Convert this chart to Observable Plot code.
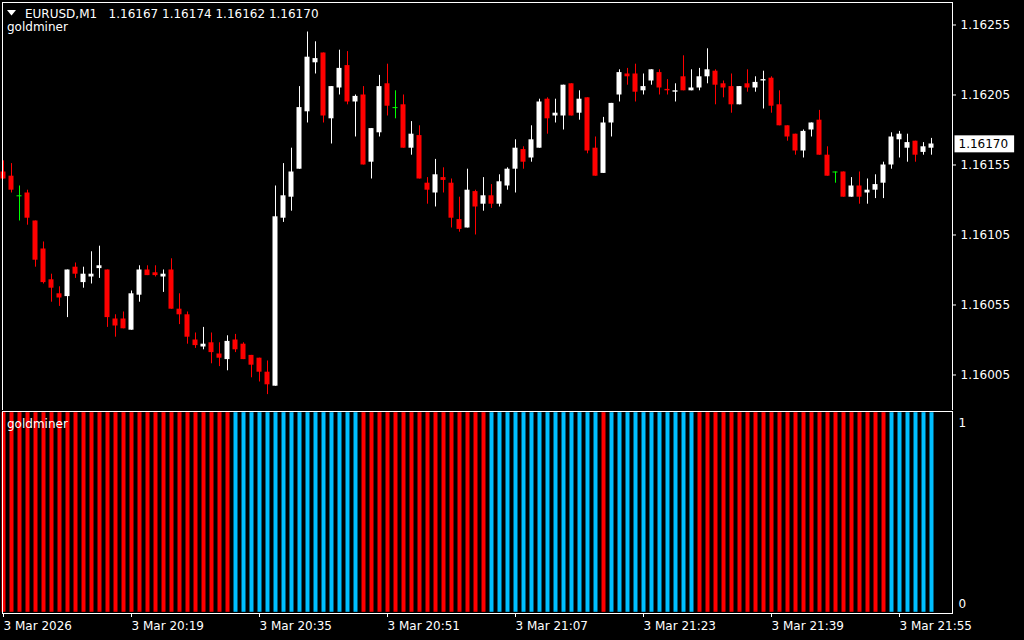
<!DOCTYPE html>
<html><head><meta charset="utf-8">
<script src="https://cdn.jsdelivr.net/npm/d3@7"></script>
<script src="https://cdn.jsdelivr.net/npm/@observablehq/plot@0.6"></script>
<style>
html,body{margin:0;padding:0;background:#000;}
#wrap{position:relative;width:1024px;height:640px;overflow:hidden;background:#000;font-family:"DejaVu Sans",sans-serif;font-size:12px;color:#fff;}
#main,#ind{position:absolute;left:0;}
#main{top:0;}
#ind{top:410px;}
.lbl{position:absolute;white-space:pre;line-height:12px;color:#fff;}
</style></head><body>
<div id="wrap"><div id="main"></div><div id="ind"></div></div>
<script>
const symbol = "EURUSD,M1";
const indicatorName = "goldminer";

const open = [
1.16150,1.16147,1.16133,1.16135,1.16115,1.16095,1.16073,1.16063,1.16061,1.16082,
1.16071,1.16075,1.16081,1.16080,1.16045,1.16045,1.16037,1.16062,1.16080,1.16078,
1.16075,1.16080,1.16052,1.16048,1.16030,1.16025,1.16028,1.16020,1.16016,1.16030,
1.16027,1.16019,1.16017,1.16007,1.15997,1.16117,1.16132,1.16152,1.16193,1.16228,
1.16235,1.16188,1.16210,1.16226,1.16200,1.16205,1.16157,1.16178,1.16213,1.16196,
1.16198,1.16167,1.16176,1.16142,1.16135,1.16146,1.16142,1.16116,1.16110,1.16136,
1.16127,1.16133,1.16127,1.16140,1.16152,1.16166,1.16160,1.16167,1.16202,1.16190,
1.16190,1.16213,1.16192,1.16203,1.16167,1.16149,1.16185,1.16205,1.16220,1.16220,
1.16208,1.16215,1.16221,1.16209,1.16207,1.16218,1.16208,1.16210,1.16218,1.16222,
1.16213,1.16211,1.16198,1.16213,1.16210,1.16215,1.16217,1.16198,1.16183,1.16177,
1.16165,1.16180,1.16187,1.16162,1.16150,1.16150,1.16132,1.16140,1.16135,1.16137,
1.16142,1.16155,1.16173,1.16167,1.16172,1.16164,1.16167];
const high = [
1.16158,1.16156,1.16140,1.16137,1.16115,1.16100,1.16077,1.16068,1.16080,1.16085,
1.16082,1.16093,1.16097,1.16080,1.16048,1.16050,1.16065,1.16083,1.16083,1.16083,
1.16080,1.16088,1.16063,1.16050,1.16035,1.16039,1.16035,1.16028,1.16033,1.16034,
1.16028,1.16019,1.16017,1.16015,1.16140,1.16156,1.16167,1.16211,1.16250,1.16243,
1.16235,1.16211,1.16237,1.16236,1.16205,1.16211,1.16181,1.16219,1.16227,1.16208,
1.16205,1.16186,1.16183,1.16146,1.16159,1.16153,1.16145,1.16132,1.16152,1.16137,
1.16146,1.16141,1.16148,1.16153,1.16173,1.16168,1.16183,1.16202,1.16203,1.16202,
1.16212,1.16213,1.16208,1.16203,1.16175,1.16189,1.16199,1.16223,1.16224,1.16227,
1.16220,1.16223,1.16223,1.16216,1.16213,1.16233,1.16223,1.16224,1.16238,1.16223,
1.16215,1.16220,1.16211,1.16223,1.16218,1.16222,1.16218,1.16208,1.16183,1.16177,
1.16180,1.16185,1.16194,1.16168,1.16150,1.16150,1.16146,1.16150,1.16145,1.16148,
1.16157,1.16178,1.16179,1.16177,1.16172,1.16171,1.16174];
const low = [
1.16145,1.16135,1.16115,1.16112,1.16082,1.16070,1.16057,1.16054,1.16046,1.16074,
1.16067,1.16070,1.16074,1.16039,1.16032,1.16038,1.16037,1.16057,1.16076,1.16075,
1.16064,1.16052,1.16041,1.16027,1.16024,1.16023,1.16013,1.16011,1.16008,1.16021,
1.16016,1.16003,1.16000,1.15991,1.15997,1.16114,1.16122,1.16152,1.16185,1.16220,
1.16185,1.16170,1.16205,1.16198,1.16175,1.16155,1.16145,1.16175,1.16190,1.16188,
1.16167,1.16162,1.16145,1.16127,1.16125,1.16135,1.16110,1.16107,1.16110,1.16105,
1.16122,1.16124,1.16125,1.16137,1.16135,1.16152,1.16157,1.16167,1.16177,1.16185,
1.16180,1.16190,1.16187,1.16163,1.16147,1.16149,1.16175,1.16200,1.16212,1.16200,
1.16205,1.16212,1.16205,1.16205,1.16200,1.16208,1.16208,1.16208,1.16213,1.16198,
1.16203,1.16192,1.16198,1.16207,1.16207,1.16195,1.16192,1.16183,1.16172,1.16162,
1.16160,1.16175,1.16162,1.16147,1.16142,1.16132,1.16132,1.16127,1.16127,1.16131,
1.16131,1.16152,1.16160,1.16157,1.16157,1.16162,1.16162];
const close = [
1.16145,1.16137,1.16133,1.16117,1.16087,1.16071,1.16067,1.16060,1.16080,1.16077,
1.16077,1.16077,1.16083,1.16046,1.16040,1.16038,1.16063,1.16080,1.16076,1.16076,
1.16077,1.16052,1.16048,1.16032,1.16026,1.16027,1.16021,1.16017,1.16029,1.16023,
1.16016,1.16012,1.16007,1.15998,1.16118,1.16133,1.16150,1.16196,1.16232,1.16231,
1.16190,1.16211,1.16224,1.16200,1.16204,1.16155,1.16181,1.16211,1.16197,1.16196,
1.16167,1.16177,1.16145,1.16137,1.16148,1.16144,1.16117,1.16109,1.16137,1.16125,
1.16133,1.16127,1.16143,1.16152,1.16167,1.16157,1.16173,1.16200,1.16188,1.16192,
1.16212,1.16190,1.16202,1.16165,1.16147,1.16185,1.16199,1.16221,1.16218,1.16207,
1.16211,1.16223,1.16210,1.16208,1.16208,1.16208,1.16210,1.16218,1.16223,1.16212,
1.16210,1.16198,1.16211,1.16210,1.16214,1.16216,1.16197,1.16183,1.16175,1.16165,
1.16179,1.16185,1.16162,1.16147,1.16150,1.16132,1.16140,1.16132,1.16137,1.16141,
1.16155,1.16175,1.16177,1.16171,1.16162,1.16168,1.16170];

// goldminer histogram: 1 = up (blue), 0 = down (red); every bar reaches level 1
const signal = [
0,0,0,0,0,0,0,0,0,0,
0,0,0,0,0,0,0,0,0,0,
0,0,0,0,0,0,0,0,0,1,
1,1,1,1,1,1,1,1,1,1,
1,1,1,1,1,0,0,0,0,0,
0,0,0,0,0,0,0,0,0,0,
0,1,1,1,1,1,1,1,1,1,
1,1,1,1,1,0,1,1,1,1,
1,1,1,1,1,1,1,0,0,0,
0,0,0,0,0,0,0,0,0,0,
0,0,0,0,0,0,0,0,0,0,
0,1,1,1,1,1,1];
const histLevel = 1;

const priceTicks = [1.16005, 1.16055, 1.16105, 1.16155, 1.16205, 1.16255];
const indTicks = [0, 1];
const timeTickPos = [0, 16, 32, 48, 64, 80, 96, 112];
const timeTickLabels = ["3 Mar 2026","3 Mar 20:19","3 Mar 20:35","3 Mar 20:51","3 Mar 21:07","3 Mar 21:23","3 Mar 21:39","3 Mar 21:55"];

const fmt = d3.format(".5f");
const idx = d3.range(open.length);
const col = i => close[i] > open[i] ? "#ffffff" : close[i] < open[i] ? "#ff0000" : "#00ff00";
const bodies = idx.filter(i => close[i] !== open[i]);
const dojis = idx.filter(i => close[i] === open[i]);
const xDomain = [-0.125, 118.625];
const baseStyle = {background: "#000", color: "#fff", fontFamily: "DejaVu Sans", fontSize: "12px", overflow: "visible"};
const last = close.length - 1;

const main = Plot.plot({
  width: 1024, height: 411,
  marginLeft: 2, marginRight: 72, marginTop: 2, marginBottom: 1,
  style: baseStyle,
  x: {domain: xDomain, axis: null},
  y: {domain: [1.1597964, 1.1627107]},
  marks: [
    Plot.ruleX(idx, {x: i => i, y1: i => low[i], y2: i => high[i], stroke: col, strokeWidth: 1}),
    Plot.rect(bodies, {x1: i => i - 0.3125, x2: i => i + 0.3125, y1: i => open[i], y2: i => close[i], fill: col}),
    Plot.ruleY(dojis, {y: i => close[i], x1: i => i - 0.3125, x2: i => i + 0.3125, stroke: col}),
    Plot.axisY(priceTicks, {anchor: "right", tickFormat: fmt, tickSize: 3, tickPadding: 5, label: null, fontSize: 12}),
    Plot.text([close[last]], {y: d => d, frameAnchor: "right", dx: 6, textAnchor: "start", text: d => fmt(d), fill: "#000", fontSize: 12}),
    Plot.frame({stroke: "#fff"})
  ]
});
document.getElementById("main").append(main);

// white box behind the current price label (placed from the text that Plot positioned)
const bidStr = fmt(close[last]);
d3.select(main).selectAll("text").filter(function() {
  return this.textContent === bidStr && !priceTicks.map(fmt).includes(this.textContent);
}).each(function() {
  const bb = this.getBBox();
  const r = document.createElementNS("http://www.w3.org/2000/svg", "rect");
  r.setAttribute("x", bb.x - 4);
  r.setAttribute("y", bb.y - 1.5);
  r.setAttribute("width", bb.width + 10);
  r.setAttribute("height", bb.height + 3);
  r.setAttribute("fill", "#fff");
  const tf = this.getAttribute("transform");
  if (tf) r.setAttribute("transform", tf);
  this.parentNode.insertBefore(r, this);
});

const ind = Plot.plot({
  width: 1024, height: 230,
  marginLeft: 2, marginRight: 72, marginTop: 1, marginBottom: 27,
  style: baseStyle,
  x: {domain: xDomain},
  y: {domain: [-0.006, 1.006]},
  marks: [
    Plot.rect(idx, {x1: i => i - 0.1875, x2: i => i + 0.3125, y1: 0, y2: histLevel, fill: i => signal[i] ? "#00bfff" : "#ff0000"}),
    Plot.frame({stroke: "#fff"}),
    Plot.axisY([indTicks[1]], {anchor: "right", tickSize: 0, tickPadding: 6, dy: 10, label: null, fontSize: 12, tickFormat: d => String(d)}),
    Plot.axisY([indTicks[0]], {anchor: "right", tickSize: 0, tickPadding: 6, dy: -8, label: null, fontSize: 12, tickFormat: d => String(d)}),
    Plot.axisX(timeTickPos, {anchor: "bottom", tickSize: 4, tickPadding: 4, textAnchor: "start", label: null, fontSize: 12,
      tickFormat: d => timeTickLabels[timeTickPos.indexOf(d)]})
  ]
});
document.getElementById("ind").append(ind);

// header texts
const wrap = document.getElementById("wrap");
function addLabel(txt, left, top) {
  const d = document.createElement("div");
  d.className = "lbl";
  d.textContent = txt;
  d.style.left = left + "px";
  d.style.top = top + "px";
  wrap.append(d);
}
const tri = document.createElementNS("http://www.w3.org/2000/svg", "svg");
tri.setAttribute("width", 10); tri.setAttribute("height", 7);
tri.style.position = "absolute"; tri.style.left = "7px"; tri.style.top = "10px";
tri.innerHTML = '<polygon points="0,0 9,0 4.5,5.5" fill="#fff"/>';
wrap.append(tri);
addLabel(symbol + "   " + [open[last], high[last], low[last], close[last]].map(fmt).join(" "), 25, 8);
addLabel(indicatorName, 7, 21);
addLabel(indicatorName, 7, 418);
</script>
</body></html>
